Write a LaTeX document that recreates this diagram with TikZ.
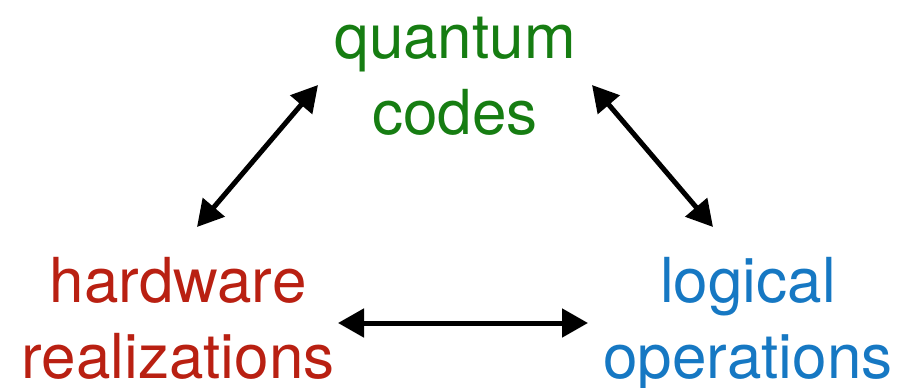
\documentclass[tikz,border=0pt]{standalone}
\usepackage{fontspec}
\setmainfont{TeX Gyre Heros}
\usetikzlibrary{arrows.meta}
\definecolor{codegreen}{RGB}{22,125,18}
\definecolor{hwred}{RGB}{185,32,18}
\definecolor{opblue}{RGB}{22,120,195}

\begin{document}
\begin{tikzpicture}[
    x=1pt, y=-1pt,
    label/.style={align=center, inner sep=0pt, anchor=base, font=\fontsize{62}{76}\selectfont},
    arrow/.style={{Triangle[length=26pt,width=28pt]}-{Triangle[length=26pt,width=28pt]}, line width=5pt}
  ]
    \useasboundingbox (0,0) rectangle (908,388);

    % base anchor sits on the last line
    \node[label, text=codegreen] (codes) at (455,134) {quantum\\codes};
    \node[label, text=hwred] (hardware) at (178,378) {hardware\\realizations};
    \node[label, text=opblue] (logical) at (748,378) {logical\\operations};

    % arrow ends
    \coordinate (codesL) at (318,85);
    \coordinate (codesR) at (592,85);
    \coordinate (hwTop) at (197,227);
    \coordinate (hwRight) at (338,323);
    \coordinate (opTop) at (713,227);
    \coordinate (opLeft) at (588,323);

    \draw[arrow] (hwTop) -- (codesL);
    \draw[arrow] (codesR) -- (opTop);
    \draw[arrow] (hwRight) -- (opLeft);
\end{tikzpicture}
\end{document}
